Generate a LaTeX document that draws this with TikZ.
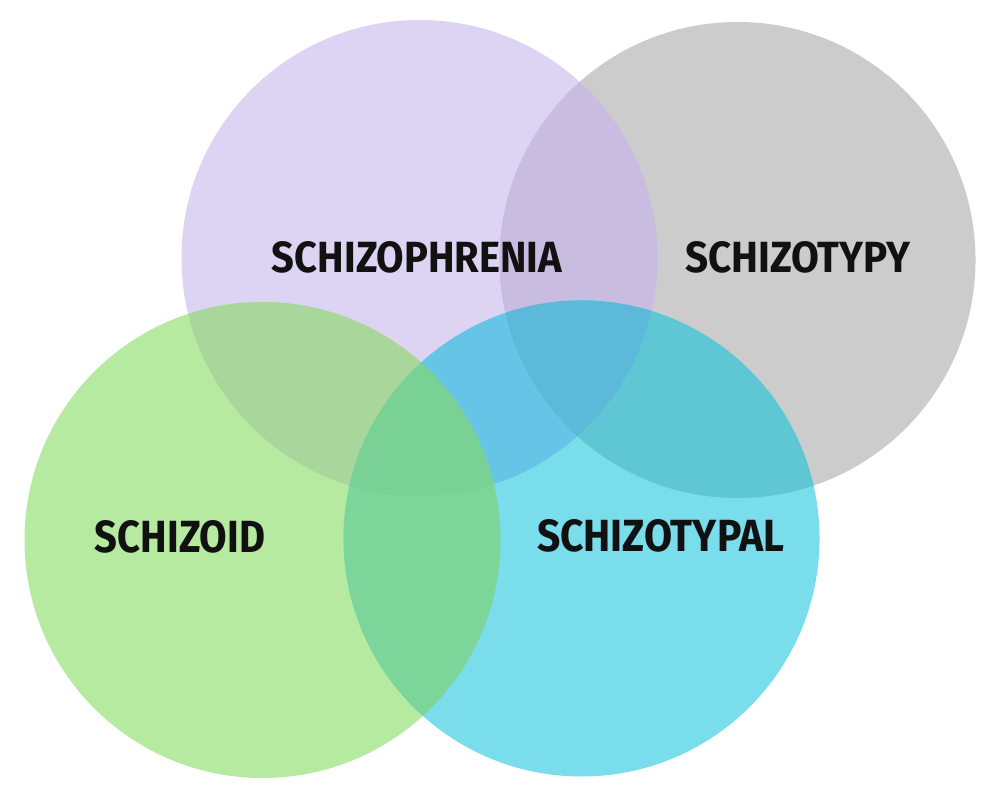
\documentclass[tikz,border=0pt]{standalone}
\usepackage{fontspec}
\usepackage{graphicx}
\setmainfont{Fira Sans}
\definecolor{cP}{HTML}{DDD3F2}
\definecolor{cGy}{HTML}{CCCCCC}
\definecolor{cGr}{HTML}{B6EAA1}
\definecolor{cC}{HTML}{79DDEB}
\definecolor{cPGy}{HTML}{C8BCE0}
\definecolor{cPGr}{HTML}{A9D79B}
\definecolor{cPC}{HTML}{66C5E6}
\definecolor{cGyC}{HTML}{5FC7D4}
\definecolor{cPGyC}{HTML}{5DB9DA}
\definecolor{cGrC}{HTML}{7DD699}
\definecolor{cPGrC}{HTML}{7AD196}
\definecolor{txt}{HTML}{111111}
\tikzset{
  lbl/.style={inner sep=0pt, anchor=center, text=txt, font=\bfseries}
}
\begin{document}
\begin{tikzpicture}
\useasboundingbox (0,0) rectangle (10,8);
\fill[white] (0,0) rectangle (10,8);
\def\rr{2.38}
\coordinate (P) at (4.195,5.42);
\coordinate (Gy) at (7.375,5.40);
\coordinate (Gr) at (2.625,2.60);
\coordinate (C) at (5.815,2.615);
% single circles
\fill[cP] (P) circle (\rr);
\fill[cGy] (Gy) circle (\rr);
\fill[cGr] (Gr) circle (\rr);
\fill[cC] (C) circle (\rr);
% pairs
\begin{scope}\clip (P) circle (\rr); \fill[cPGy] (Gy) circle (\rr); \end{scope}
\begin{scope}\clip (P) circle (\rr); \fill[cPGr] (Gr) circle (\rr); \end{scope}
\begin{scope}\clip (P) circle (\rr); \fill[cPC] (C) circle (\rr); \end{scope}
\begin{scope}\clip (Gy) circle (\rr); \fill[cGyC] (C) circle (\rr); \end{scope}
\begin{scope}\clip (Gr) circle (\rr); \fill[cGrC] (C) circle (\rr); \end{scope}
% triples
\begin{scope}\clip (P) circle (\rr); \clip (Gy) circle (\rr); \fill[cPGyC] (C) circle (\rr); \end{scope}
\begin{scope}\clip (P) circle (\rr); \clip (Gr) circle (\rr); \fill[cPGrC] (C) circle (\rr); \end{scope}
% labels
\node[lbl] (tP) at (4.17,5.425) {\resizebox{2.90cm}{0.31cm}{SCHIZOPHRENIA}};
\node[lbl] (tGy) at (7.975,5.425) {\resizebox{2.25cm}{0.31cm}{SCHIZOTYPY}};
\node[lbl] (tGr) at (1.80,2.635) {\resizebox{1.70cm}{0.32cm}{SCHIZOID}};
\node[lbl] (tC) at (6.605,2.64) {\resizebox{2.47cm}{0.32cm}{SCHIZOTYPAL}};
\end{tikzpicture}
\end{document}
